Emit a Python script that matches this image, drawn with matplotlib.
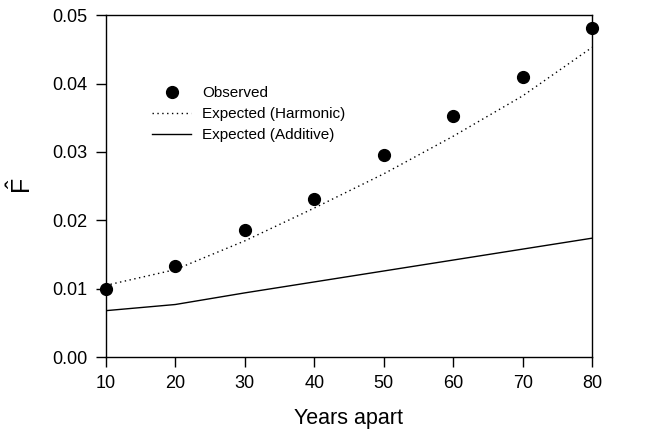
import matplotlib
matplotlib.use("Agg")
import matplotlib.pyplot as plt
from matplotlib.lines import Line2D

years = [10, 20, 30, 40, 50, 60, 70, 80]
observed = [0.0100, 0.0133, 0.0186, 0.0231, 0.0295, 0.0353, 0.0410, 0.0481]
harmonic = [0.0105, 0.0128, 0.0170, 0.0218, 0.0268, 0.0323, 0.0382, 0.0453]
additive = [0.0068, 0.0077, 0.0094, 0.0110, 0.0126, 0.0142, 0.0158, 0.0174]

plt.rcParams['font.family'] = ['Liberation Sans', 'DejaVu Sans']
plt.rcParams['mathtext.fontset'] = 'custom'
plt.rcParams['mathtext.rm'] = 'Liberation Sans'

fig = plt.figure(figsize=(6.45, 4.34), dpi=100)
ax = fig.add_axes([0.164, 0.177, 0.754, 0.788])

ax.plot(years, harmonic, linestyle=(0, (1, 2.5)), color='black', lw=1.0)
ax.plot(years, additive, linestyle='-', color='black', lw=1.0)
ax.plot(years, observed, 'o', color='black', markersize=8.5, clip_on=False, zorder=5)

ax.set_xlim(10, 80)
ax.set_ylim(0, 0.05)
ax.set_xticks(years)
ax.set_yticks([0.0, 0.01, 0.02, 0.03, 0.04, 0.05])
ax.set_yticklabels(['0.00', '0.01', '0.02', '0.03', '0.04', '0.05'])
ax.tick_params(axis='both', direction='out', length=7, width=1, labelsize=13, pad=6)
for s in ax.spines.values():
    s.set_linewidth(1.0)

ax.set_xlabel('Years apart', fontsize=15.5, labelpad=11)
ax.set_ylabel(r'$\mathrm{\hat{F}}$', fontsize=18, labelpad=12)

handles = [
    Line2D([], [], marker='o', color='black', linestyle='None', markersize=8.5),
    Line2D([], [], linestyle=(0, (1, 2.5)), color='black', lw=1.0),
    Line2D([], [], linestyle='-', color='black', lw=1.0),
]
labels = ['Observed', 'Expected (Harmonic)', 'Expected (Additive)']
ax.legend(handles, labels, loc='upper left', bbox_to_anchor=(0.082, 0.81),
          frameon=False, fontsize=11, handlelength=2.6, handletextpad=0.7,
          labelspacing=0.45, borderaxespad=0)

fig.savefig('out.png', dpi=100)
